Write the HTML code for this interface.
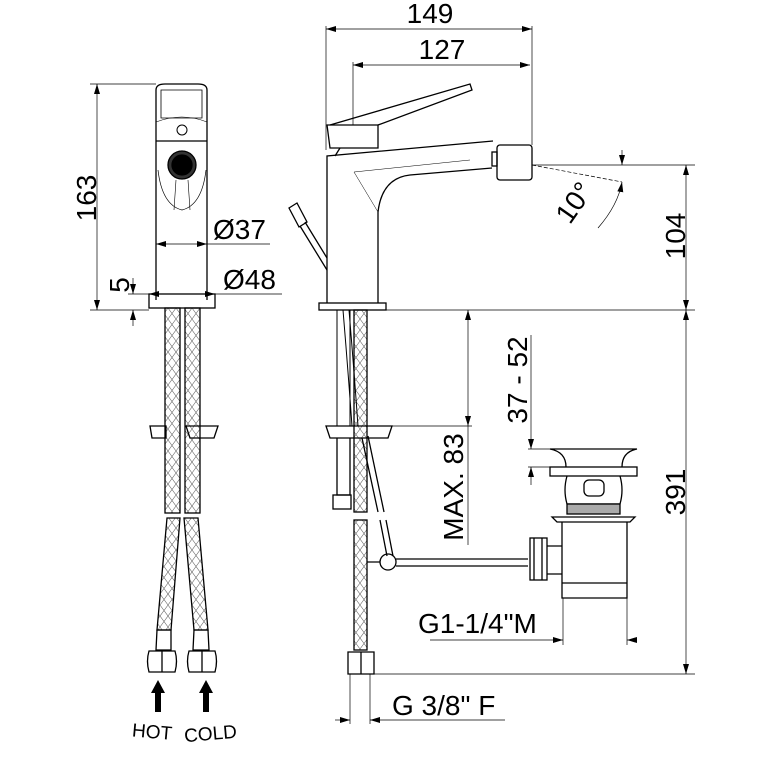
<!DOCTYPE html>
<html><head><style>
html,body{margin:0;padding:0;background:#fff;}
svg{display:block;}
text{font-family:"Liberation Sans",sans-serif;fill:#000;}
</style></head><body>
<svg width="759" height="759" viewBox="0 0 759 759" xmlns="http://www.w3.org/2000/svg">
<defs>
<pattern id="hx" width="8" height="22" patternUnits="userSpaceOnUse">
<path d="M0 0 L8 11 L0 22 M8 0 L0 11 L8 22" stroke="#666" stroke-width="0.6" fill="none"/>
</pattern>
<marker id="a" viewBox="0 0 10 6" refX="10" refY="3" markerWidth="10" markerHeight="6" orient="auto-start-reverse" markerUnits="userSpaceOnUse">
<path d="M0 0 L10 3 L0 6 z" fill="#000"/>
</marker>
</defs>
<g fill="none" stroke="#000" stroke-width="1.3">
<path d="M156 300 L156 90 Q156 84 165 84 L198 84 Q207 84 207 90 L207 300"/>
<path d="M161 90 L202 90 L202 118 L161 118 Z" stroke-width="0.8"/>
<path d="M156 122 Q182 112 207 122" stroke-width="0.6"/>
<circle cx="182" cy="130" r="5" stroke-width="1"/>
<line x1="156" y1="141" x2="207" y2="141"/>
<circle cx="182" cy="165" r="14" fill="#333"/>
<circle cx="182" cy="165" r="10" fill="#000"/>
<path d="M158 170 Q162 205 182 210 Q202 205 206 170" stroke-width="0.7"/>
<path d="M176 180 L174 210 M188 180 L190 210" stroke-width="0.6"/>
<rect x="149" y="294" width="66" height="14"/>
<rect x="165" y="308" width="15" height="205" fill="url(#hx)"/>
<rect x="185" y="308" width="15" height="205" fill="url(#hx)"/>
<path d="M150 426 L166 426 L166 438 L152 438 Z"/>
<path d="M186 426 L218 426 L214 438 L190 438 Z"/>
<path d="M167 518 L180 518 L171 630 L157 630 Z" fill="url(#hx)"/>
<path d="M184 518 L198 518 L208 630 L194 630 Z" fill="url(#hx)"/>
<path d="M157 630 L171 630 L171 650 L156 650 Z"/>
<path d="M194 630 L208 630 L209 650 L193 650 Z"/>
<path d="M149 651 L175 651 Q178 661 175 672 L149 672 Q146 661 149 651 Z M162 651 L162 672"/>
<path d="M189 651 L215 651 Q218 661 215 672 L189 672 Q186 661 189 651 Z M202 651 L202 672"/>
<path d="M327 303 L327 156 L493 141"/>
<path d="M378 303 L378 212 Q382 178 410 175 L492 168"/>
<path d="M327 125 L378 125 L378 148 L330 148 Z"/>
<path d="M330 125 L470 84 L472 90 L378 125"/>
<path d="M340 148 L335 156"/>
<path d="M354 172 L378 212" stroke-width="0.5"/>
<path d="M354 172 L470 160" stroke-width="0.5"/>
<rect x="492" y="152" width="5" height="14"/>
<rect x="497" y="145" width="35" height="35" rx="3"/>
<rect x="319" y="303" width="67" height="7"/>
<path d="M289 208 L297 203 L307 222 L299 227 Z"/>
<path d="M300 226 L327 270 M305 222 L327 258"/>
<rect x="354" y="310" width="13" height="202" fill="url(#hx)"/>
<rect x="354" y="520" width="13" height="130" fill="url(#hx)"/>
<path d="M337 310 L337 426 M350 310 L350 426" stroke-width="1"/>
<path d="M343 310 Q348 370 352 426 M349 310 Q354 370 358 426" stroke-width="1"/>
<path d="M326 426 L392 426 L388 438 L330 438 Z"/>
<path d="M337 438 L337 495 L350 495 L350 438"/>
<rect x="333" y="495" width="18" height="14"/>
<path d="M362 438 L378 512 M368 436 L384 512 M380 520 L387 556 M386 520 L393 556"/>
<circle cx="388" cy="562" r="8"/>
<path d="M367 562 L380 562 M396 559 L528 559 M396 566 L528 566"/>
<path d="M348 652 L374 652 L374 674 L348 674 Z M361 652 L361 674"/>
<path d="M550 449 L637 449 Q622 452 622 467 M550 449 Q566 452 566 467"/>
<rect x="550" y="467" width="87" height="9"/>
<path d="M567 476 Q563 490 567 504 L620 504 Q624 490 620 476"/>
<rect x="584" y="480" width="20" height="16" rx="5"/>
<rect x="567" y="504" width="53" height="10" fill="#aaa"/>
<path d="M552 517 L635 517 L630 522 L557 522 Z"/>
<path d="M562 522 L562 598 L627 598 L627 522"/>
<line x1="562" y1="583" x2="627" y2="583"/>
<rect x="530" y="538" width="17" height="42"/>
<path d="M534 538 L534 580 M542 538 L542 580"/>
<path d="M547 546 L562 546 M547 574 L562 574"/>
</g>
<g fill="none" stroke="#000" stroke-width="0.7">
<line x1="97" y1="84" x2="97" y2="310" marker-start="url(#a)" marker-end="url(#a)"/>
<line x1="90" y1="84" x2="156" y2="84"/>
<line x1="90" y1="310" x2="149" y2="310"/>
<line x1="133" y1="278" x2="133" y2="294" marker-end="url(#a)"/>
<line x1="133" y1="326" x2="133" y2="310" marker-end="url(#a)"/>
<line x1="128" y1="294" x2="149" y2="294"/>
<line x1="156" y1="244" x2="207" y2="244" marker-start="url(#a)" marker-end="url(#a)"/>
<line x1="207" y1="244" x2="270" y2="244"/>
<line x1="149" y1="294" x2="215" y2="294" marker-start="url(#a)" marker-end="url(#a)"/>
<line x1="215" y1="294" x2="282" y2="294"/>
<line x1="326" y1="29" x2="532" y2="29" marker-start="url(#a)" marker-end="url(#a)"/>
<line x1="326" y1="26" x2="326" y2="150"/>
<line x1="532" y1="26" x2="532" y2="145"/>
<line x1="353" y1="65" x2="530" y2="65" marker-start="url(#a)" marker-end="url(#a)"/>
<line x1="353" y1="62" x2="353" y2="125"/>
<line x1="532" y1="165" x2="695" y2="165"/>
<line x1="532" y1="165" x2="622" y2="182" stroke-dasharray="4,2"/>
<line x1="622" y1="150" x2="622" y2="165" marker-end="url(#a)"/>
<path d="M598 228 Q618 205 622 182" marker-end="url(#a)"/>
<line x1="686" y1="165" x2="686" y2="310" marker-start="url(#a)" marker-end="url(#a)"/>
<line x1="386" y1="310" x2="695" y2="310"/>
<line x1="686" y1="310" x2="686" y2="674" marker-start="url(#a)" marker-end="url(#a)"/>
<line x1="374" y1="674" x2="695" y2="674"/>
<line x1="468" y1="310" x2="468" y2="426" marker-start="url(#a)" marker-end="url(#a)"/>
<line x1="392" y1="426" x2="472" y2="426"/>
<line x1="468" y1="426" x2="468" y2="545"/>
<line x1="531" y1="335" x2="531" y2="449" marker-end="url(#a)"/>
<line x1="531" y1="485" x2="531" y2="467" marker-end="url(#a)"/>
<line x1="528" y1="449" x2="550" y2="449"/>
<line x1="528" y1="467" x2="550" y2="467"/>
<line x1="563" y1="598" x2="563" y2="645"/>
<line x1="627" y1="598" x2="627" y2="645"/>
<line x1="430" y1="640" x2="563" y2="640" marker-end="url(#a)"/>
<line x1="627" y1="640" x2="637" y2="640" marker-start="url(#a)"/>
<line x1="350" y1="674" x2="350" y2="724"/>
<line x1="370" y1="674" x2="370" y2="724"/>
<line x1="335" y1="720" x2="350" y2="720" marker-end="url(#a)"/>
<line x1="370" y1="720" x2="505" y2="720" marker-start="url(#a)"/>
</g>
<path d="M158 680 L151 693 L155 693 L155 712 L161 712 L161 693 L165 693 Z" fill="#000"/>
<path d="M206 680 L199 693 L203 693 L203 712 L209 712 L209 693 L213 693 Z" fill="#000"/>
<text x="0" y="0" font-size="28" transform="translate(96,198) rotate(-90)" text-anchor="middle">163</text>
<text x="0" y="0" font-size="28" transform="translate(129,285) rotate(-90)" text-anchor="middle">5</text>
<text x="213" y="239" font-size="28">Ø37</text>
<text x="223" y="289" font-size="28">Ø48</text>
<text x="430" y="23" font-size="28" text-anchor="middle">149</text>
<text x="442" y="59" font-size="28" text-anchor="middle">127</text>
<text x="0" y="0" font-size="28" transform="translate(582,208) rotate(-55)" text-anchor="middle">10°</text>
<text x="0" y="0" font-size="28" transform="translate(685,236) rotate(-90)" text-anchor="middle">104</text>
<text x="0" y="0" font-size="28" transform="translate(685,492) rotate(-90)" text-anchor="middle">391</text>
<text x="0" y="0" font-size="28" transform="translate(463,487) rotate(-90)" text-anchor="middle">MAX. 83</text>
<text x="0" y="0" font-size="28" transform="translate(527,380) rotate(-90)" text-anchor="middle">37 - 52</text>
<text x="418" y="633" font-size="28">G1-1/4"M</text>
<text x="392" y="715" font-size="28">G 3/8" F</text>
<text x="132" y="738" font-size="19" transform="rotate(5 150 733)">HOT</text>
<text x="184" y="740" font-size="19" transform="rotate(-5 210 733)">COLD</text>
</svg>
</body></html>
